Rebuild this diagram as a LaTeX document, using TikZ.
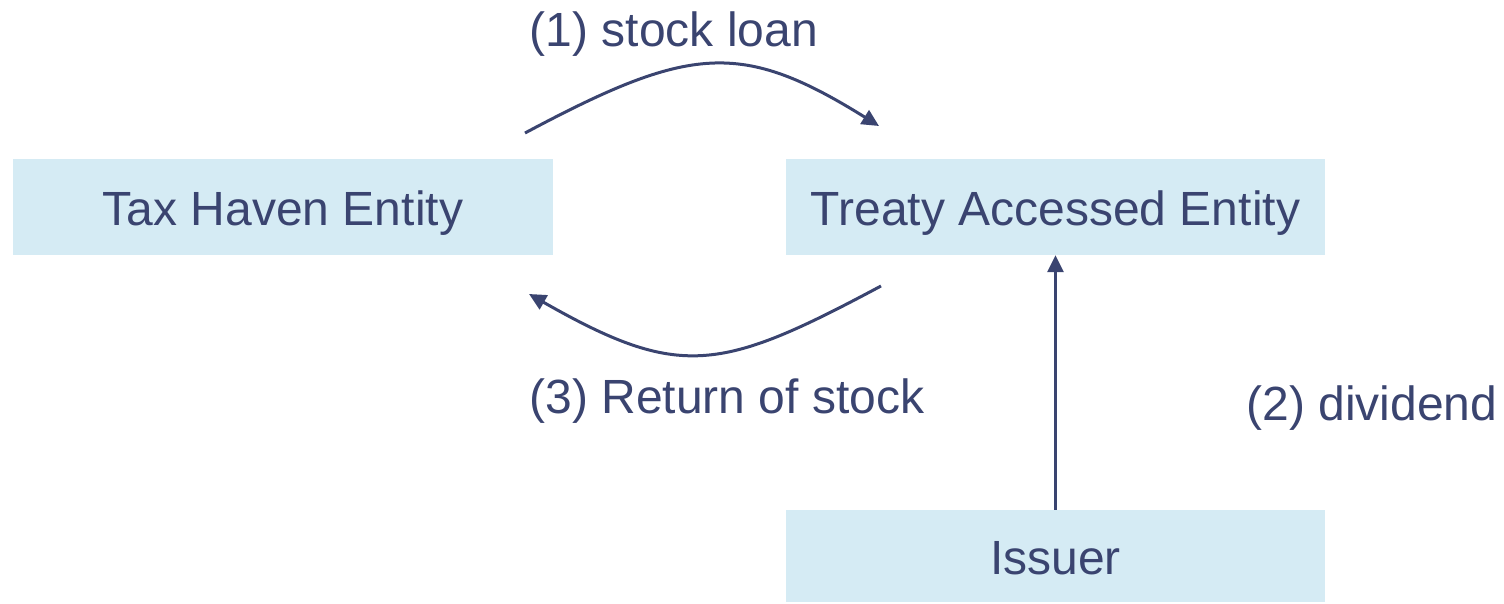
\documentclass[tikz,border=0pt]{standalone}
\usepackage{fontspec}
\setmainfont{Liberation Sans}
\usetikzlibrary{arrows.meta}
\definecolor{ink}{HTML}{3A4470}
\definecolor{boxfill}{HTML}{D5EBF4}
\begin{document}
\begin{tikzpicture}[x=1pt,y=-1pt,
  entity/.style={fill=boxfill, draw=none, text=ink, inner sep=0pt,
    text height=40pt, text depth=4pt,
    font=\fontsize{48}{56}\selectfont},
  lbl/.style={text=ink, inner sep=0pt, font=\fontsize{48}{56}\selectfont},
  flow/.style={draw=ink, line width=3pt,
    -{Triangle[length=17pt,width=16pt]}}]
\useasboundingbox (0,0) rectangle (1504,603);
% entities
\node[entity, minimum width=540pt, minimum height=96pt] (haven) at (283,207) {Tax Haven Entity};
\node[entity, minimum width=539pt, minimum height=96pt] (treaty) at (1055.5,207) {Treaty Accessed Entity};
\node[entity, minimum width=539pt, minimum height=92pt] (issuer) at (1055.5,556) {Issuer};
% loan and return flows
\coordinate (loanA) at (525,133);
\coordinate (loanB) at (879,126);
\coordinate (retA) at (881,286);
\coordinate (retB) at (529,294);
\draw[flow] (loanA) .. controls (690,45) and (741,40) .. (loanB);
\draw[flow] (retA) .. controls (720,372) and (680,380) .. (retB);
\draw[flow] (issuer.north) -- (treaty.south);
% labels
\node[lbl] (l1) at (674,34) {(1) stock loan};
\node[lbl] (l3) at (727,401) {(3) Return of stock};
\node[lbl] (l2) at (1372,408) {(2) dividend};
\end{tikzpicture}
\end{document}
